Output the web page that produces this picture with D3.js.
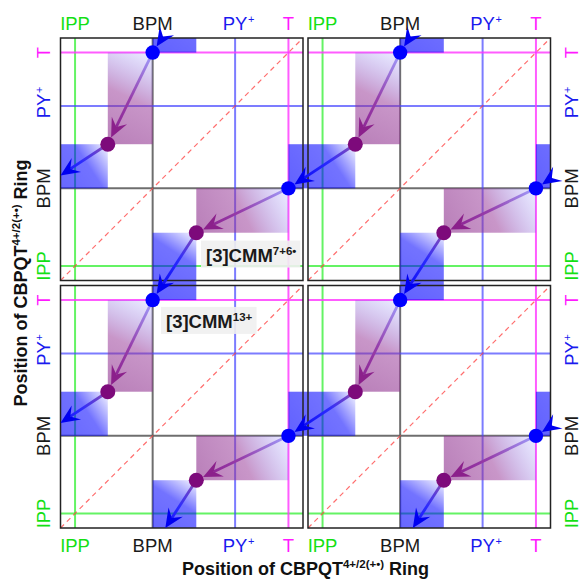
<!DOCTYPE html>
<html><head><meta charset="utf-8">
<script src="https://cdn.jsdelivr.net/npm/d3@7"></script>
<style>body{margin:0;background:#fff} svg{display:block}</style>
</head><body>
<script>
// ---------- data ----------
const positionNames = ["IPP", "BPM", "PY", "T"];
const positionSups = ["", "", "+", ""];
const positionValues = [0.06, 0.38, 0.72, 0.94];

const stateX = [0.38, 0.195, 0.94, 0.56];
const stateY = [0.94, 0.562, 0.38, 0.197];
const stateKind = ["blue", "purple", "blue", "purple"];

const stepFrom = [0, 1, 2, 3];
const stepTo = [1, 2, 3, 0];
const stepCol = [0, -1, 0, 0];
const stepRow = [0, 0, 0, 1];
const stepKind = ["purple", "blue", "purple", "blue"];

const tileCols = [0, 1];
const tileRows = [0, 1];

const annotationText = ["[3]CMM", "[3]CMM"];
const annotationSup = ["7+6\u2022", "13+"];
const annotationCol = [0, 0];
const annotationRow = [0, 1];
const annotationX = [0.6, 0.435];
const annotationY = [0.078, 0.825];

const titleMain = "Position of CBPQT";
const titleSup = "4+/2(+\u2022)";
const titleTail = " Ring";

// ---------- layout / style ----------
const W = 581, H = 581;
const padL = 60.5, padT = 38, pw = 242.5, gap = 5;
const chartW = 2 * pw + gap, chartH = 2 * pw + gap;
const labelColor = {IPP: "#14e014", BPM: "#1a1a1a", PY: "#1a1aee", T: "#ff1aff"};
const gridColor = {IPP: "#22ee22", BPM: "#555555", PY: "#4444ff", T: "#ff33ff"};
const gridOpacity = {IPP: 0.7, BPM: 0.85, PY: 0.7, T: 0.8};
const dotColor = {blue: "#0000ff", purple: "#7d0a7b"};
const dotR = {blue: 7.2, purple: 7.5};
const headColor = {blue: "#0000f0", purple: "#8b208b"};
const FONT = "'Liberation Sans', Arial, Helvetica, sans-serif";

const xScale = c => d3.scaleLinear().domain([0, 1]).range([padL + c * (pw + gap), padL + c * (pw + gap) + pw]);
const yScale = r => d3.scaleLinear().domain([0, 1]).range([padT + r * (pw + gap) + pw, padT + r * (pw + gap)]);

const svg = d3.select("body").append("svg").attr("width", W).attr("height", H)
  .style("font-family", FONT);
svg.append("rect").attr("width", W).attr("height", H).attr("fill", "#fff");
const defs = svg.append("defs");
defs.append("clipPath").attr("id", "chartClip").append("rect")
  .attr("x", padL).attr("y", padT).attr("width", chartW).attr("height", chartH);

const gGrid = svg.append("g");
const gRects = svg.append("g").attr("clip-path", "url(#chartClip)");
const gDiag = svg.append("g");
const gFrame = svg.append("g");
const gArrows = svg.append("g");
const gDots = svg.append("g");
const gAnno = svg.append("g");
const gAxis = svg.append("g");

// grid lines, diagonal, frame per tile
tileCols.forEach(c => tileRows.forEach(r => {
  const xs = xScale(c), ys = yScale(r);
  positionNames.forEach((n, i) => {
    const v = positionValues[i];
    gGrid.append("line").attr("x1", xs(v)).attr("x2", xs(v)).attr("y1", ys(0)).attr("y2", ys(1))
      .attr("stroke", gridColor[n]).attr("stroke-opacity", gridOpacity[n]).attr("stroke-width", 2);
    gGrid.append("line").attr("y1", ys(v)).attr("y2", ys(v)).attr("x1", xs(0)).attr("x2", xs(1))
      .attr("stroke", gridColor[n]).attr("stroke-opacity", gridOpacity[n]).attr("stroke-width", 2);
  });
  gDiag.append("line").attr("x1", xs(0)).attr("y1", ys(0)).attr("x2", xs(1)).attr("y2", ys(1))
    .attr("stroke", "#ff4a4a").attr("stroke-opacity", 0.8).attr("stroke-width", 1.2)
    .attr("stroke-dasharray", "5,4");
  gFrame.append("rect").attr("x", xs(0)).attr("y", ys(1)).attr("width", pw).attr("height", pw)
    .attr("fill", "none").attr("stroke", "#222").attr("stroke-width", 1.5);
}));

// clip a segment to chart rect (Liang-Barsky)
function clipSeg(x0, y0, x1, y1) {
  const xmin = padL, xmax = padL + chartW, ymin = padT, ymax = padT + chartH;
  let t0 = 0, t1 = 1;
  const dx = x1 - x0, dy = y1 - y0;
  const p = [-dx, dx, -dy, dy], q = [x0 - xmin, xmax - x0, y0 - ymin, ymax - y0];
  for (let i = 0; i < 4; i++) {
    if (p[i] === 0) { if (q[i] < 0) return null; }
    else {
      const t = q[i] / p[i];
      if (p[i] < 0) { if (t > t1) return null; if (t > t0) t0 = t; }
      else { if (t < t0) return null; if (t < t1) t1 = t; }
    }
  }
  return [x0 + t0 * dx, y0 + t0 * dy, x0 + t1 * dx, y0 + t1 * dy];
}

let gid = 0;
const HL = 19, HW = 8.5, NOTCH = 0.62;
for (let c = -1; c <= 2; c++) for (let r = -1; r <= 2; r++) {
  stepFrom.forEach((f, k) => {
    const t = stepTo[k];
    const c2 = c + stepCol[k], r2 = r + stepRow[k];
    const sx = xScale(c)(stateX[f]), sy = yScale(r)(stateY[f]);
    const ex = xScale(c2)(stateX[t]), ey = yScale(r2)(stateY[t]);
    const kind = stepKind[k];
    const rid = "rg" + (gid++);
    const rg = defs.append("linearGradient").attr("id", rid).attr("gradientUnits", "userSpaceOnUse")
      .attr("x1", sx).attr("y1", sy).attr("x2", ex).attr("y2", ey);
    if (kind === "purple") {
      rg.append("stop").attr("offset", 0).attr("stop-color", "#6a6aff").attr("stop-opacity", 0.12);
      rg.append("stop").attr("offset", 0.5).attr("stop-color", "#963596").attr("stop-opacity", 0.52);
      rg.append("stop").attr("offset", 1).attr("stop-color", "#8a2a8a").attr("stop-opacity", 0.6);
    } else {
      rg.append("stop").attr("offset", 0).attr("stop-color", "#0000ff").attr("stop-opacity", 0.03);
      rg.append("stop").attr("offset", 0.35).attr("stop-color", "#0000ff").attr("stop-opacity", 0.55);
      rg.append("stop").attr("offset", 1).attr("stop-color", "#0000ff").attr("stop-opacity", 0.62);
    }
    gRects.append("rect").attr("x", Math.min(sx, ex)).attr("y", Math.min(sy, ey))
      .attr("width", Math.abs(ex - sx)).attr("height", Math.abs(ey - sy))
      .attr("fill", `url(#${rid})`);

    const len = Math.hypot(ex - sx, ey - sy);
    const ux = (ex - sx) / len, uy = (ey - sy) / len;
    const rr = dotR[stateKind[t]];
    const tx = ex - ux * rr, ty = ey - uy * rr;
    const seg = clipSeg(sx, sy, tx, ty);
    if (!seg) return;
    const [ax, ay, bx, by] = seg;
    const lid = "lg" + (gid++);
    const lg = defs.append("linearGradient").attr("id", lid).attr("gradientUnits", "userSpaceOnUse")
      .attr("x1", sx).attr("y1", sy).attr("x2", ex).attr("y2", ey);
    if (kind === "purple") {
      lg.append("stop").attr("offset", 0).attr("stop-color", "#a0a0ff");
      lg.append("stop").attr("offset", 0.5).attr("stop-color", "#963fac");
      lg.append("stop").attr("offset", 1).attr("stop-color", "#8b1a8b");
    } else {
      lg.append("stop").attr("offset", 0).attr("stop-color", "#9050b0");
      lg.append("stop").attr("offset", 0.4).attr("stop-color", "#2a2aff");
      lg.append("stop").attr("offset", 1).attr("stop-color", "#0000f0");
    }
    const lx = bx - ux * HL * NOTCH, ly = by - uy * HL * NOTCH;
    gArrows.append("line").attr("x1", ax).attr("y1", ay).attr("x2", lx).attr("y2", ly)
      .attr("stroke", `url(#${lid})`).attr("stroke-width", 2.8);
    const ang = Math.atan2(uy, ux) * 180 / Math.PI;
    gArrows.append("path")
      .attr("d", `M0,0L${-HL},${-HW}L${-HL * NOTCH},0L${-HL},${HW}Z`)
      .attr("transform", `translate(${bx},${by}) rotate(${ang})`)
      .attr("fill", headColor[kind]);
  });
}

// dots
tileCols.forEach(c => tileRows.forEach(r => {
  const xs = xScale(c), ys = yScale(r);
  stateX.forEach((x, i) => {
    gDots.append("circle").attr("cx", xs(x)).attr("cy", ys(stateY[i]))
      .attr("r", dotR[stateKind[i]]).attr("fill", dotColor[stateKind[i]]);
  });
}));

// annotations
annotationText.forEach((txt, i) => {
  const xs = xScale(annotationCol[i]), ys = yScale(annotationRow[i]);
  const g = gAnno.append("g");
  const bg = g.append("rect");
  const t = g.append("text").attr("x", xs(annotationX[i])).attr("y", ys(annotationY[i]))
    .attr("font-size", 18.5).attr("font-weight", "bold").attr("fill", "#1a1a1a");
  t.append("tspan").text(txt);
  t.append("tspan").attr("dy", -7).attr("font-size", 11.5).text(annotationSup[i]);
  const b = t.node().getBBox();
  bg.attr("x", b.x - 5).attr("y", b.y - 4).attr("width", b.width + 9).attr("height", b.height + 6)
    .attr("fill", "#efefef").attr("fill-opacity", 0.9);
});

// tick labels
function tickLabel(g, i) {
  const n = positionNames[i];
  const t = g.append("text").attr("x", 0).attr("y", 0).attr("text-anchor", "middle")
    .attr("font-size", 18.5).attr("fill", labelColor[n]).text(n);
  if (positionSups[i]) {
    const w = t.node().getComputedTextLength();
    g.append("text").attr("x", w / 2 + 0.5).attr("y", -7).attr("font-size", 11)
      .attr("fill", labelColor[n]).text(positionSups[i]);
  }
}
tileCols.forEach(c => {
  const xs = xScale(c);
  positionValues.forEach((v, i) => {
    tickLabel(gAxis.append("g").attr("transform", `translate(${xs(v)},29.5)`), i);
    tickLabel(gAxis.append("g").attr("transform", `translate(${xs(v)},552)`), i);
  });
});
tileRows.forEach(r => {
  const ys = yScale(r);
  positionValues.forEach((v, i) => {
    tickLabel(gAxis.append("g").attr("transform", `translate(50,${ys(v)}) rotate(-90)`), i);
    tickLabel(gAxis.append("g").attr("transform", `translate(578,${ys(v)}) rotate(-90)`), i);
  });
});

// axis titles
function axisTitle(g) {
  const t = g.append("text").attr("text-anchor", "middle").attr("font-size", 18)
    .attr("font-weight", "bold").attr("fill", "#111");
  t.append("tspan").text(titleMain);
  t.append("tspan").attr("dy", -7).attr("font-size", 11.5).text(titleSup);
  t.append("tspan").attr("dy", 7).text(titleTail);
}
axisTitle(gAxis.append("g").attr("transform", `translate(${padL + chartW / 2},575)`));
axisTitle(gAxis.append("g").attr("transform", `translate(27,${padT + chartH / 2}) rotate(-90)`));
</script>
</body></html>
